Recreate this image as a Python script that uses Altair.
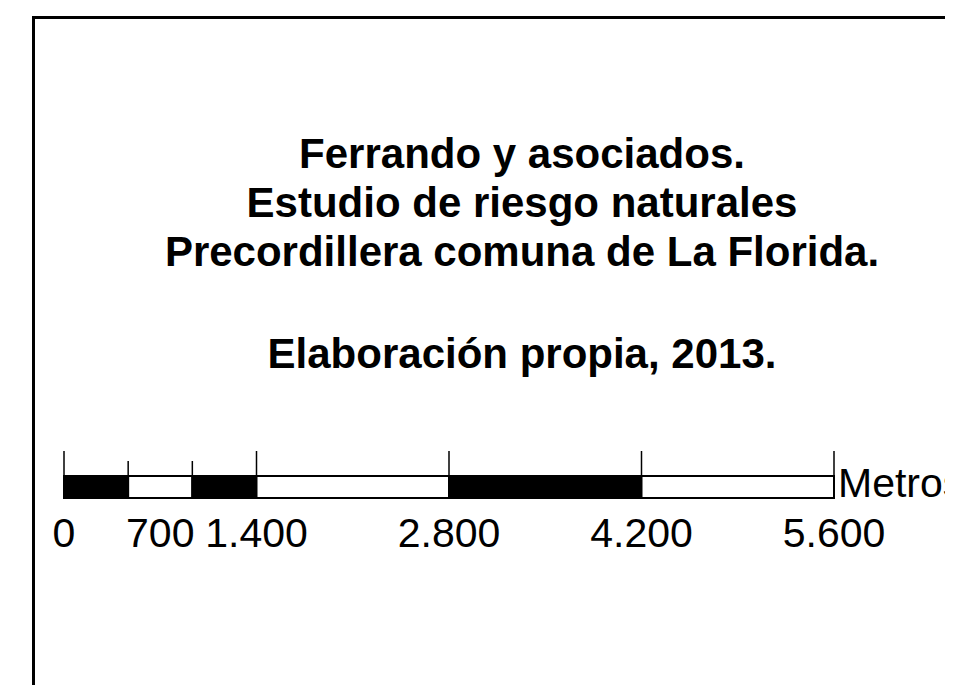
import altair as alt
import pandas as pd

# Scale bar data (metres)
seg_start = [0, 1400 / 3, 2800 / 3, 1400, 2800, 4200]
seg_end = [1400 / 3, 2800 / 3, 1400, 2800, 4200, 5600]
seg_fill = ["black", "white", "black", "white", "black", "white"]
major_ticks = [0, 1400, 2800, 4200, 5600]
minor_ticks = [1400 / 3, 2800 / 3]
label_values = [0, 700, 1400, 2800, 4200, 5600]
label_texts = ["0", "700", "1.400", "2.800", "4.200", "5.600"]
unit_label = "Metros"
title_lines = [
    "Ferrando y asociados.",
    "Estudio de riesgo naturales",
    "Precordillera comuna de La Florida.",
]
credit_line = "Elaboración propia, 2013."

W, H = 937, 677
xscale = alt.Scale(domain=[0, 5600], range=[56, 826])

segs = pd.DataFrame({"start": seg_start, "end": seg_end, "fill": seg_fill})
majors = pd.DataFrame({"v": major_ticks})
minors = pd.DataFrame({"v": minor_ticks})
labels = pd.DataFrame({"v": label_values, "t": label_texts})

frame_left = alt.Chart(pd.DataFrame({"a": [0]})).mark_rule(
    color="black", strokeWidth=3
).encode(x=alt.value(25.5), y=alt.value(8), y2=alt.value(H))
frame_top = alt.Chart(pd.DataFrame({"a": [0]})).mark_rule(
    color="black", strokeWidth=3
).encode(x=alt.value(24), x2=alt.value(W), y=alt.value(9.5))

bar = alt.Chart(segs).mark_rect(stroke="black", strokeWidth=2).encode(
    x=alt.X("start:Q", scale=xscale, axis=None),
    x2="end:Q",
    y=alt.value(468),
    y2=alt.value(490),
    fill=alt.Fill("fill:N", scale=None),
)
major = alt.Chart(majors).mark_rule(color="black", strokeWidth=1.5).encode(
    x=alt.X("v:Q", scale=xscale, axis=None),
    y=alt.value(443),
    y2=alt.value(468),
)
minor = alt.Chart(minors).mark_rule(color="black", strokeWidth=1.5).encode(
    x=alt.X("v:Q", scale=xscale, axis=None),
    y=alt.value(453),
    y2=alt.value(468),
)
lab = alt.Chart(labels).mark_text(
    font="Liberation Sans", fontSize=41, baseline="alphabetic", align="center", color="black"
).encode(
    x=alt.X("v:Q", scale=xscale, axis=None),
    y=alt.value(539),
    text="t:N",
)
unit = alt.Chart(pd.DataFrame({"t": [unit_label]})).mark_text(
    font="Liberation Sans", fontSize=41, baseline="alphabetic", align="left", color="black"
).encode(x=alt.value(830), y=alt.value(489), text="t:N")

title = alt.Chart(pd.DataFrame({"t": ["\n".join(title_lines)]})).mark_text(
    font="Liberation Sans", fontSize=42, fontWeight="bold", baseline="alphabetic",
    align="center", color="black", lineBreak="\n", lineHeight=49,
).encode(x=alt.value(514), y=alt.value(160), text="t:N")

credit = alt.Chart(pd.DataFrame({"t": [credit_line]})).mark_text(
    font="Liberation Sans", fontSize=42, fontWeight="bold", baseline="alphabetic",
    align="center", color="black",
).encode(x=alt.value(514), y=alt.value(360), text="t:N")

chart = alt.layer(frame_left, frame_top, bar, major, minor, lab, unit, title, credit).properties(
    width=W, height=H, padding=0, autosize=alt.AutoSizeParams(type="none")
).configure_view(stroke=None)

chart.save("out.html", embed_options={"renderer": "svg", "actions": False})
